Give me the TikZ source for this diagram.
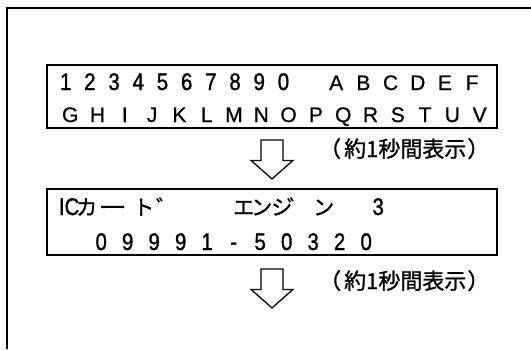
\documentclass[tikz,border=0pt]{standalone}
\usepackage{fontspec}
\setmainfont{Liberation Sans}
\newfontfamily\digfont[FakeStretch=0.85,FakeBold=1.2]{Liberation Sans}
\newfontfamily\letfont[FakeBold=0.8]{Liberation Sans}
\newfontfamily\jpfont[FakeBold=1.2]{Noto Sans CJK JP}
\newlength\lcdw
\def\lcdloop#1{\ifx#1\relax\else\makebox[\lcdw]{#1}\expandafter\lcdloop\fi}
\newcommand\lcdrow[2]{\setlength\lcdw{#1}\lcdloop#2\relax}
\newcommand\chat[2]{\rlap{\hspace*{#1pt}\makebox[0pt]{#2}}}
\newcommand\DigF{\digfont\fontsize{24}{24}\selectfont}
\newcommand\LetF{\letfont\fontsize{21}{21}\selectfont}
\newcommand\JpF{\jpfont\fontsize{21}{21}\selectfont}
\newcommand\LabF{\jpfont\fontsize{22}{22}\selectfont}
\newcommand\blockarrow[1]{%
  \draw[blockarr] (#1) ++(-11,0) -- ++(0,20.5) -- ++(-10,0) -- ++(21,18.5)
    -- ++(21,-18.5) -- ++(-10,0) -- ++(0,-20.5) -- cycle;}
\tikzset{
  frameline/.style={line width=1.2pt},
  lcdbox/.style={draw, line width=1.8pt, minimum width=450pt, inner sep=0pt},
  blockarr/.style={draw, line width=1.3pt, line join=miter},
  txt/.style={anchor=base west, inner sep=0pt},
}
\begin{document}
\begin{tikzpicture}[x=1pt, y=-1pt]
\useasboundingbox[fill=white] (0,0) rectangle (531,349);
% outer frame (open)
\draw[frameline] (531,8) -- (7,8) -- (7,349);
% LCD boxes
\node[lcdbox, minimum height=63pt] (b1) at (272,96.5) {};
\node[lcdbox, minimum height=66pt] (b2) at (272,222) {};
% box 1 text
\node[txt] (r1) at (53.4,90) {{\DigF\lcdrow{24.2pt}{1234567890}}\hspace{27pt}{\LetF\lcdrow{27.2pt}{ABCDEF}}};
\node[txt] (r2) at (56.35,122) {\LetF\lcdrow{27.3pt}{GHIJKLMNOPQRSTUV}};
% box 2 text
\node[txt] (r3) at (0,215) {\DigF\chat{68.5}{IC}\JpF\chat{86}{カ}\chat{112}{\scalebox{1.35}[1]{ー}}\chat{143}{ト}\chat{166}{゛}%
  \chat{243}{エ}\chat{261}{ン}\chat{281}{シ}\chat{297}{゛}\chat{323}{ン}\DigF\chat{377.5}{3}};
\node[txt] (r4) at (87.75,250) {\DigF\lcdrow{26.5pt}{09991-50320}};
% arrows
\path (b1.south) ++(0,11) coordinate (a1);
\path (b2.south) ++(0,13) coordinate (a2);
\blockarrow{a1}
\blockarrow{a2}
% labels
\node[txt] (l1) at (319,157) {\LabF（\kern3pt 約1秒間表示\kern1pt）};
\node[txt] (l2) at (319,289) {\LabF（\kern3pt 約1秒間表示\kern1pt）};
\end{tikzpicture}
\end{document}
